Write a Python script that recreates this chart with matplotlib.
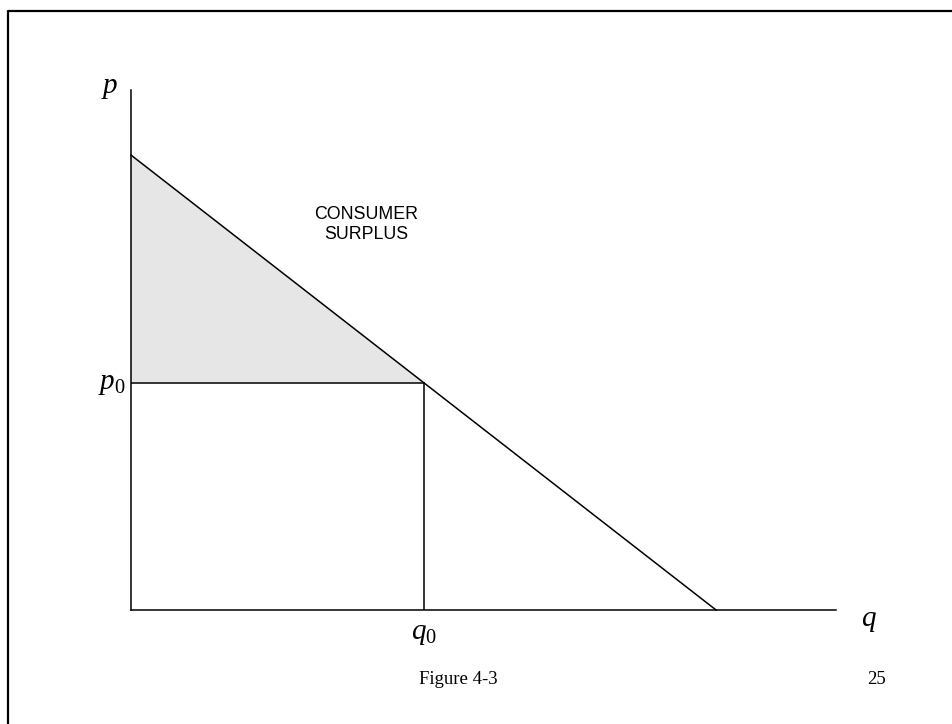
import matplotlib
matplotlib.use("Agg")
import matplotlib.pyplot as plt
from matplotlib.lines import Line2D

plt.rcParams["mathtext.fontset"] = "custom"
plt.rcParams["mathtext.it"] = "Liberation Serif:italic"
plt.rcParams["mathtext.rm"] = "Liberation Serif"

# Linear demand curve p = 10 - q
demand_q = [0.0, 10.0]
demand_p = [10.0, 0.0]
# Equilibrium quantity and price
q0 = 5.0
p0 = 5.0
# Axis extents
q_max = 12.05
p_max = 11.43

W, H = 952, 724
fig = plt.figure(figsize=(W / 100, H / 100), dpi=100)
fig.patch.set_facecolor("white")

# Page frame (top and left edges)
fig.add_artist(Line2D([8 / W, 8 / W, 1.0], [0.0, 1 - 10.5 / H, 1 - 10.5 / H],
                      transform=fig.transFigure, color="black", lw=1.6))

ax = fig.add_axes([131 / W, (H - 610) / H, 705 / W, 520 / H])
ax.set_xlim(0, q_max)
ax.set_ylim(0, p_max)
for side in ("top", "right"):
    ax.spines[side].set_visible(False)
for side in ("left", "bottom"):
    ax.spines[side].set_linewidth(1.1)
    ax.spines[side].set_color("black")
ax.set_xticks([])
ax.set_yticks([])
ax.patch.set_alpha(0)

# Consumer surplus triangle
ax.fill([0, q0, 0], [demand_p[0], p0, p0], color="#e6e6e6", lw=0, zorder=1)

# Demand curve and equilibrium guides
ax.plot(demand_q, demand_p, color="black", lw=1.1, zorder=3, clip_on=False)
ax.plot([0, q0], [p0, p0], color="black", lw=1.1, zorder=3)
ax.plot([q0, q0], [0, p0], color="black", lw=1.1, zorder=3)

# Axis labels
ax.text(-0.22, 11.36, r"$p$", fontsize=21, ha="right", va="baseline")
ax.text(q_max + 0.42, -0.35, r"$q$", fontsize=21, ha="left", va="baseline")
ax.text(-0.1, p0, r"$p_0$", fontsize=21, ha="right", va="center")
ax.text(q0, -0.2, r"$q_0$", fontsize=21, ha="center", va="top")

ax.text(4.02, 8.47, "CONSUMER\nSURPLUS", fontsize=12.8, family="Liberation Sans",
        ha="center", va="center", linespacing=1.18)

fig.text(458 / W, 1 - 680 / H, "Figure 4-3", fontsize=13.5,
         family="Liberation Serif", ha="center", va="center")
fig.text(876 / W, 1 - 680 / H, "25", fontsize=13.5,
         family="Liberation Serif", ha="center", va="center")

fig.savefig("out.png", dpi=100, facecolor="white")
